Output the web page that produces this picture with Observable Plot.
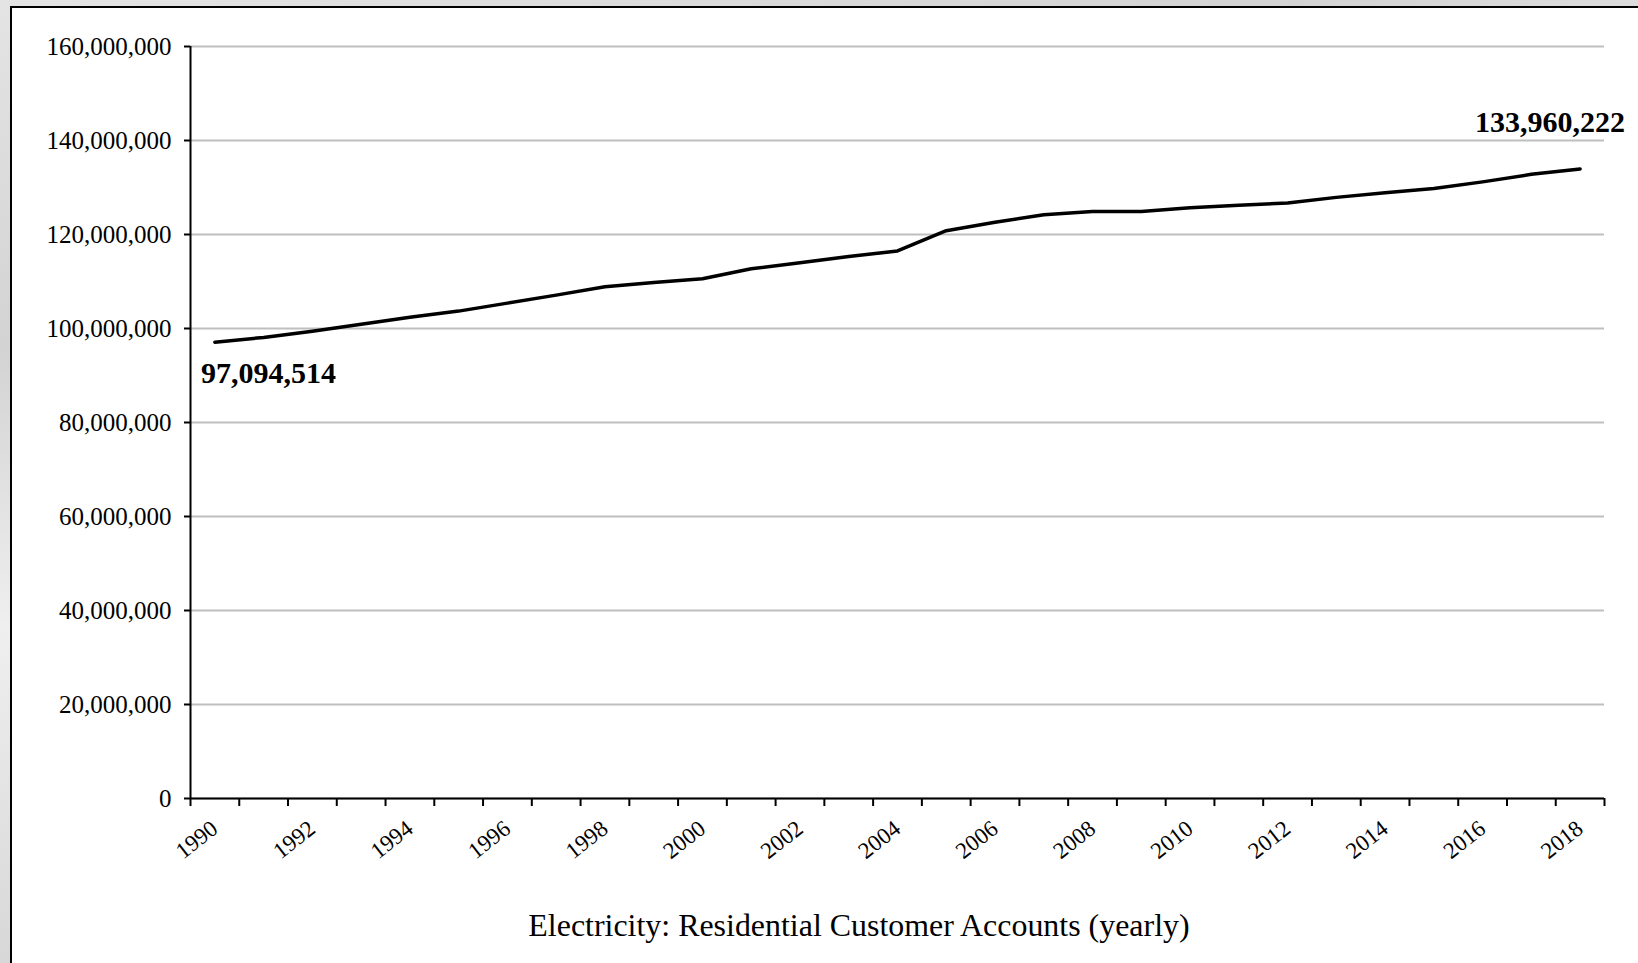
<!DOCTYPE html>
<html><head><meta charset="utf-8">
<script src="https://cdn.jsdelivr.net/npm/d3@7"></script>
<script src="https://cdn.jsdelivr.net/npm/@observablehq/plot@0.6"></script>
<style>
html,body{margin:0;padding:0;}
body{width:1638px;height:963px;overflow:hidden;position:relative;
  background:linear-gradient(165deg,#e4e4e4 0%,#d3d3d3 25%,#efefef 45%,#d6d6d6 70%,#c9c9c9 100%);}
#box{position:absolute;left:10px;top:6px;width:1700px;height:1000px;border:2px solid #000;background:#fff;}
#chart{position:absolute;left:0;top:0;}
#title{position:absolute;left:459px;width:800px;top:904px;line-height:42px;text-align:center;
  font-family:"Liberation Serif","Times New Roman",serif;font-size:32px;color:#000;white-space:nowrap;}
</style></head>
<body>
<div id="box"></div>
<div id="chart"></div>
<div id="title"></div>
<script>
const years = [1990,1991,1992,1993,1994,1995,1996,1997,1998,1999,2000,2001,2002,2003,2004,2005,2006,2007,2008,2009,2010,2011,2012,2013,2014,2015,2016,2017,2018];
const customers = [97094514,98100000,99400000,100900000,102400000,103700000,105400000,107100000,108900000,109800000,110600000,112700000,114000000,115300000,116500000,120800000,122600000,124200000,124900000,124900000,125700000,126200000,126700000,127900000,128900000,129800000,131200000,132800000,133960222];
const yTicks = [0,20000000,40000000,60000000,80000000,100000000,120000000,140000000,160000000];
const xLabelYears = [1990,1992,1994,1996,1998,2000,2002,2004,2006,2008,2010,2012,2014,2016,2018];
const chartTitle = "Electricity: Residential Customer Accounts (yearly)";

const data = years.map((year, i) => ({year, value: customers[i]}));
const xDomain = [years[0] - 0.5, years[years.length - 1] + 0.5];
const boundaries = years.map(y => y - 0.5).concat([xDomain[1]]);
const fmt = d3.format(",");
const first = data[0], last = data[data.length - 1];

const plot = Plot.plot({
  width: 1638,
  height: 880,
  marginLeft: 190,
  marginRight: 34,
  marginTop: 46,
  marginBottom: 82,
  style: {background: "transparent", fontFamily: "'Liberation Serif','Times New Roman',serif", fontSize: "24px", color: "#000", overflow: "visible"},
  x: {type: "linear", domain: xDomain, label: null},
  y: {domain: [0, 160000000], label: null},
  marks: [
    Plot.gridY(yTicks, {stroke: "#bfbfbf", strokeOpacity: 1, strokeWidth: 2}),
    Plot.axisY(yTicks, {tickFormat: fmt, tickSize: 6, tickPadding: 13, strokeWidth: 2, fontSize: 25, label: null}),
    Plot.axisX(boundaries, {tickSize: 8, tickFormat: () => "", strokeWidth: 2, label: null}),
    Plot.axisX(xLabelYears, {tickSize: 0, tickPadding: 27, tickRotate: -38, tickFormat: d => String(d), fontSize: 23, label: null}),
    Plot.ruleX([xDomain[0]], {stroke: "#000", strokeWidth: 2}),
    Plot.ruleY([0], {stroke: "#000", strokeWidth: 2}),
    Plot.line(data, {x: "year", y: "value", stroke: "#000", strokeWidth: 3.5}),
    Plot.text([first], {x: "year", y: "value", text: d => fmt(d.value), textAnchor: "start", dx: -14, dy: 31, fontWeight: "bold", fontSize: 30, fill: "#000"}),
    Plot.text([last], {x: "year", y: "value", text: d => fmt(d.value), textAnchor: "end", dx: 45, dy: -46, fontWeight: "bold", fontSize: 30, fill: "#000"})
  ]
});
document.getElementById("chart").appendChild(plot);

const t = document.getElementById("title");
t.textContent = chartTitle;
const ctx = document.createElement("canvas").getContext("2d");
ctx.font = "32px 'Liberation Serif'";
const w = ctx.measureText(chartTitle).width;
t.style.transform = `scaleX(${663 / w})`;
</script>
</body></html>
